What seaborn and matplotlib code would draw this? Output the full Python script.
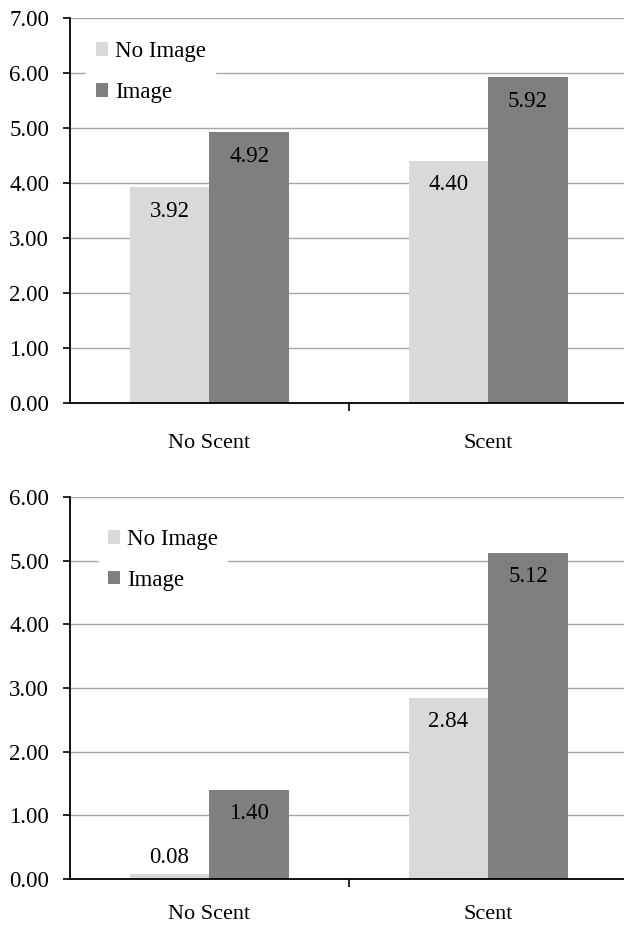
import pandas as pd
import seaborn as sns
import matplotlib.pyplot as plt
from matplotlib.ticker import FormatStrFormatter, FixedLocator

scents = ["No Scent", "Scent"]
images = ["No Image", "Image"]
top_no_image = [3.92, 4.40]
top_image = [4.92, 5.92]
bottom_no_image = [0.08, 2.84]
bottom_image = [1.40, 5.12]


def make_df(no_img, img):
    rows = []
    for s, v in zip(scents, no_img):
        rows.append({"scent": s, "image": "No Image", "value": v})
    for s, v in zip(scents, img):
        rows.append({"scent": s, "image": "Image", "value": v})
    return pd.DataFrame(rows)


sns.set_theme(style="white")
plt.rcParams["font.family"] = ["Liberation Serif", "DejaVu Serif"]
plt.rcParams["text.color"] = "black"
plt.rcParams["xtick.color"] = "black"
plt.rcParams["ytick.color"] = "black"

palette = {"No Image": "#d9d9d9", "Image": "#7f7f7f"}

fig = plt.figure(figsize=(6.24, 9.25), dpi=100)
ax1 = fig.add_axes([0.112, 0.5643, 0.894, 0.4162])
ax2 = fig.add_axes([0.112, 0.0497, 0.894, 0.4130])


def draw(ax, df, ymax, leg_anchor, xpad):
    sns.barplot(data=df, x="scent", y="value", hue="image", order=scents,
                hue_order=images, palette=palette, width=0.57, saturation=1,
                linewidth=0, ax=ax, zorder=3)
    ax.set_xlim(-0.5, 1.5)
    ax.set_ylim(0, ymax)
    ax.set_yticks([i for i in range(ymax + 1)])
    ax.yaxis.set_major_formatter(FormatStrFormatter("%.2f"))
    ax.grid(axis="y", color="#a6a6a6", linewidth=1.0, zorder=0)
    ax.set_axisbelow(True)
    for s in ["top", "right"]:
        ax.spines[s].set_visible(False)
    for s in ["left", "bottom"]:
        ax.spines[s].set_color("black")
        ax.spines[s].set_linewidth(1.3)
        ax.spines[s].set_zorder(4)
    ax.set_xlabel("")
    ax.set_ylabel("")
    ax.tick_params(axis="y", which="major", direction="out", length=5,
                   width=1.2, color="black", labelcolor="black",
                   labelsize=16.5, pad=10, left=True)
    ax.tick_params(axis="x", which="major", length=0, labelsize=16,
                   labelcolor="black", pad=xpad)
    ax.xaxis.set_minor_locator(FixedLocator([0.5]))
    ax.tick_params(axis="x", which="minor", direction="out", length=6,
                   width=1.2, color="black", bottom=True)
    for cont in ax.containers:
        for bar in cont:
            h = bar.get_height()
            x = bar.get_x() + bar.get_width() / 2
            if h < 0.5:
                ax.annotate(f"{h:.2f}", (x, h), xytext=(0, 12),
                            textcoords="offset points", ha="center",
                            va="center", fontsize=16.5, color="black",
                            zorder=5)
            else:
                ax.annotate(f"{h:.2f}", (x, h), xytext=(0, -17),
                            textcoords="offset points", ha="center",
                            va="center", fontsize=16.5, color="black",
                            zorder=5)
    leg = ax.legend(loc="upper left", bbox_to_anchor=leg_anchor,
                    frameon=True, fontsize=16.5, handlelength=0.55,
                    handleheight=0.55, handletextpad=0.3, labelspacing=0.85,
                    borderpad=0.4, fancybox=False)
    for t in leg.get_texts():
        t.set_color("black")
    leg.get_frame().set_edgecolor("white")
    leg.get_frame().set_facecolor("white")
    leg.get_frame().set_alpha(1)


draw(ax1, make_df(top_no_image, top_image), 7, (0.009, 0.993), 22)
draw(ax2, make_df(bottom_no_image, bottom_image), 6, (0.031, 0.97), 19)

fig.savefig("out.png", dpi=100)
